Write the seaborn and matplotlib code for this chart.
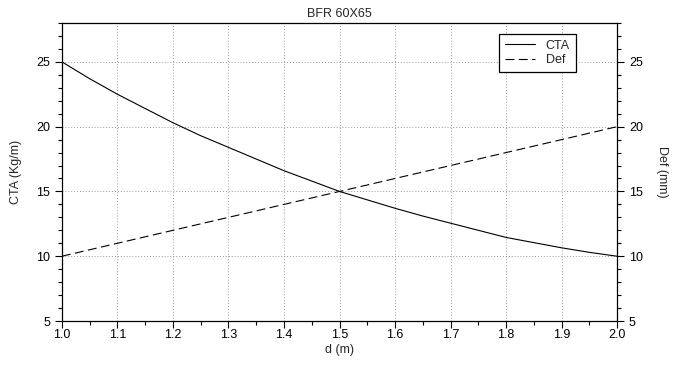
import numpy as np
import pandas as pd
import matplotlib
matplotlib.use('Agg')
import matplotlib.pyplot as plt
import seaborn as sns
from matplotlib.ticker import MultipleLocator

# values
d_vals = [1.0, 1.05, 1.1, 1.15, 1.2, 1.25, 1.3, 1.35, 1.4, 1.45, 1.5,
          1.55, 1.6, 1.65, 1.7, 1.75, 1.8, 1.85, 1.9, 1.95, 2.0]
cta_vals = [25.0, 23.7, 22.5, 21.4, 20.3, 19.3, 18.4, 17.5, 16.6, 15.8, 15.0,
            14.35, 13.7, 13.1, 12.55, 12.0, 11.45, 11.05, 10.65, 10.3, 10.0]
def_vals = [10, 10.5, 11, 11.5, 12, 12.5, 13, 13.5, 14, 14.5, 15,
            15.5, 16, 16.5, 17, 17.5, 18, 18.5, 19, 19.5, 20]

df = pd.DataFrame({'d': d_vals, 'CTA': cta_vals, 'Def': def_vals})

sns.set_style('ticks')
plt.rcParams['font.family'] = ['Liberation Sans', 'DejaVu Sans']
plt.rcParams['font.size'] = 9
plt.rcParams['xtick.direction'] = 'out'
plt.rcParams['ytick.direction'] = 'out'

fig = plt.figure(figsize=(6.73, 3.65), dpi=100)
ax = fig.add_axes([0.092, 0.1205, 0.825, 0.8165])

# both axes share the same 5..28 scale, so Def is drawn on the same axes
sns.lineplot(data=df, x='d', y='CTA', ax=ax, color='black', linewidth=0.8, label='CTA')
sns.lineplot(data=df, x='d', y='Def', ax=ax, color='black', linewidth=0.8,
             linestyle=(0, (8, 4)), label='Def')

ax.set_xlim(1.0, 2.0)
ax.set_ylim(5, 28)
ax.yaxis.set_major_locator(MultipleLocator(5))
ax.yaxis.set_minor_locator(MultipleLocator(1))
ax.xaxis.set_major_locator(MultipleLocator(0.1))
ax.xaxis.set_minor_locator(MultipleLocator(0.05))
ax.xaxis.set_major_formatter(plt.FuncFormatter(lambda v, p: f'{v:.1f}'))
ax.xaxis.set_ticks_position('bottom')
ax.yaxis.set_ticks_position('both')
ax.tick_params(axis='y', labelleft=True, labelright=True)
ax.tick_params(which='major', length=5, width=0.8, colors='black', labelsize=9)
ax.tick_params(which='minor', length=3, width=0.8, colors='black')
ax.tick_params(axis='x', pad=1)
for s in ax.spines.values():
    s.set_visible(True)
    s.set_linewidth(0.9)
    s.set_color('black')
ax.grid(True, which='major', linestyle=(0, (1, 2)), color='#999999', linewidth=0.7)

ax.set_xlabel('d (m)', labelpad=2)
ax.set_ylabel('CTA (Kg/m)', labelpad=10)
ax.set_title('BFR 60X65', fontsize=9, pad=4)
fig.text(0.983, 0.528, 'Def (mm)', rotation=270, ha='center', va='center', fontsize=9)

leg = ax.legend(loc='upper left', bbox_to_anchor=(0.787, 0.963),
                borderaxespad=0, fancybox=False, framealpha=1, edgecolor='black',
                fontsize=9, handlelength=2.4, borderpad=0.45, labelspacing=0.2,
                handletextpad=0.9)
leg.get_frame().set_linewidth(0.9)

fig.savefig('out.png', dpi=100)
